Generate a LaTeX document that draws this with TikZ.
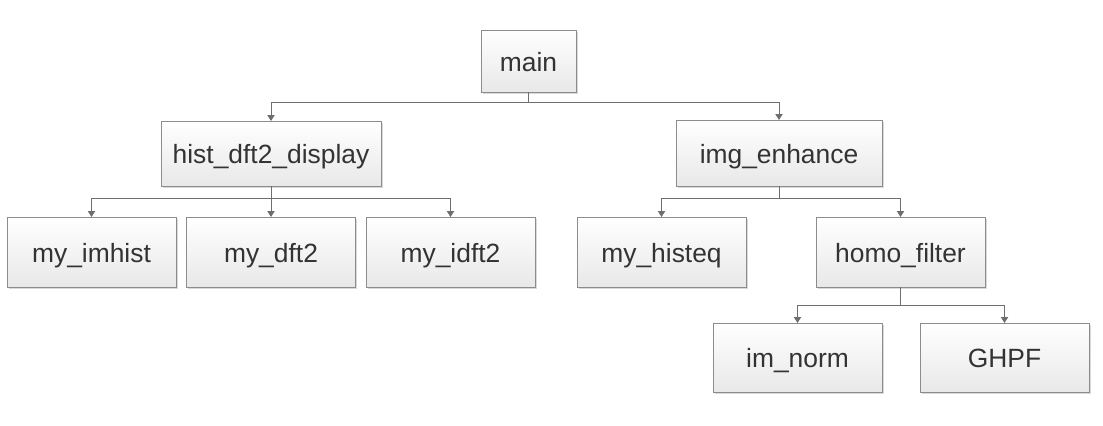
\documentclass[tikz,border=0pt]{standalone}
\usepackage{fontspec}
\setmainfont{Liberation Sans}
\usetikzlibrary{arrows.meta,shadows}
\definecolor{txt}{HTML}{333333}
\definecolor{edge}{HTML}{8C8C8C}
\definecolor{wire}{HTML}{6E6E6E}
\tikzset{
  fbox/.style={rectangle, draw=edge, line width=0.75pt, inner sep=0pt, outer sep=0pt,
    top color=white, bottom color=black!9, text=txt,
    font=\fontsize{19.8}{22}\selectfont, text height=15pt, text depth=0pt,
    drop shadow={shadow xshift=1.2pt, shadow yshift=-1.2pt, opacity=0.25, fill=black!60}},
  lvl/.style={fbox, minimum width=126.75pt, minimum height=52.5pt},
  wirestyle/.style={draw=wire, line width=0.75pt},
  arr/.style={wirestyle, -{Triangle[width=5.5pt,length=4.5pt]}}
}
\begin{document}
\begin{tikzpicture}[x=0.75pt,y=-0.75pt]
\useasboundingbox (0,0) rectangle (1103,425);
\node[fbox, minimum width=71.25pt, minimum height=46.5pt] (main) at (528.5,61) {main};
\node[fbox, minimum width=165pt, minimum height=48.75pt] (hist) at (271,153.5) {hist\_dft2\_display};
\node[fbox, minimum width=154.5pt, minimum height=49.5pt] (enh) at (779,153) {img\_enhance};
\node[lvl] (imhist) at (91.5,252) {my\_imhist};
\node[lvl] (dft) at (271,252) {my\_dft2};
\node[lvl] (idft) at (450.5,252) {my\_idft2};
\node[lvl] (histeq) at (661.5,252) {my\_histeq};
\node[lvl] (homo) at (900.5,252) {homo\_filter};
\node[lvl, minimum height=51.75pt] (norm) at (797.5,357.5) {im\_norm};
\node[lvl, minimum height=51.75pt] (ghpf) at (1004.5,357.5) {GHPF};
\coordinate (b1) at (0,102);
\coordinate (b2) at (0,198);
\coordinate (b3) at (0,305);
\draw[wirestyle] (main.south) -- (main.south |- b1);
\draw[arr] (main.south |- b1) -| (hist.north);
\draw[arr] (main.south |- b1) -| (enh.north);
\draw[wirestyle] (hist.south) -- (hist.south |- b2);
\draw[arr] (hist.south |- b2) -| (imhist.north);
\draw[arr] (hist.south) -- (dft.north);
\draw[arr] (hist.south |- b2) -| (idft.north);
\draw[wirestyle] (enh.south) -- (enh.south |- b2);
\draw[arr] (enh.south |- b2) -| (histeq.north);
\draw[arr] (enh.south |- b2) -| (homo.north);
\draw[wirestyle] (homo.south) -- (homo.south |- b3);
\draw[arr] (homo.south |- b3) -| (norm.north);
\draw[arr] (homo.south |- b3) -| (ghpf.north);
\end{tikzpicture}
\end{document}
